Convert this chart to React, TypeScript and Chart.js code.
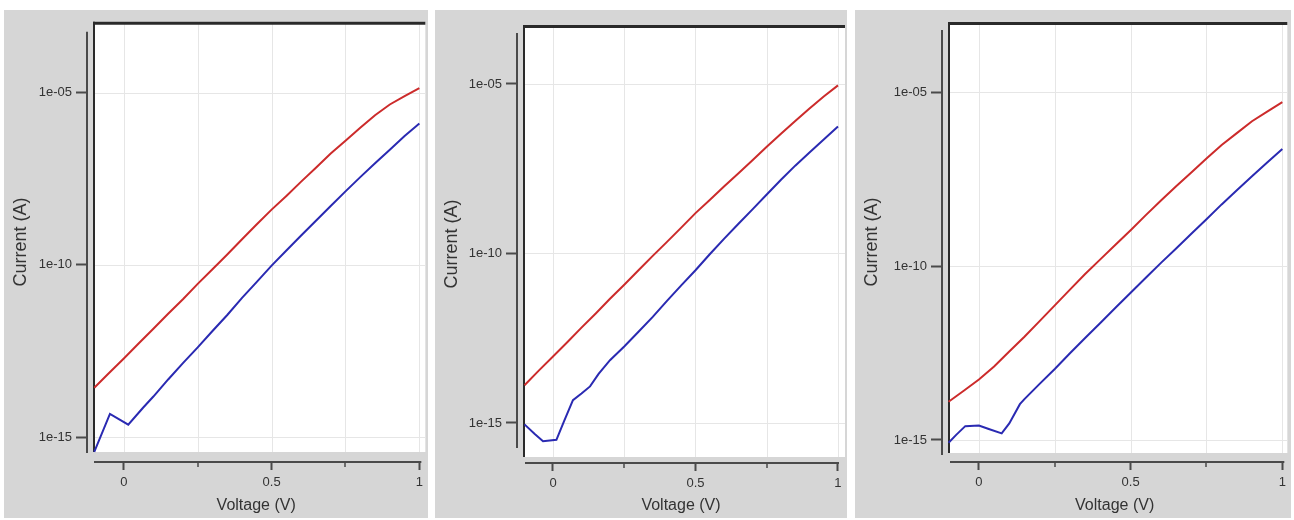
import React, { useEffect, useRef } from "react";
import { Chart, registerables } from "chart.js";

Chart.register(...registerables);

// ---------- data ----------
const voltageGrid = [
  -0.1, -0.05, 0, 0.05, 0.1, 0.15, 0.2, 0.25, 0.3, 0.35, 0.4, 0.45, 0.5,
  0.55, 0.6, 0.65, 0.7, 0.75, 0.8, 0.85, 0.9, 0.95, 1.0,
];

// panel 1
const redCurrent1 = [
  2.7e-14, 7.2e-14, 1.9e-13, 5.2e-13, 1.4e-12, 3.8e-12, 1.0e-11, 2.8e-11,
  7.4e-11, 2.0e-10, 5.5e-10, 1.5e-9, 4.0e-9, 1.0e-8, 2.6e-8, 6.6e-8, 1.7e-7,
  4.0e-7, 9.5e-7, 2.2e-6, 4.5e-6, 7.9e-6, 1.35e-5,
];
const blueVoltage1 = [
  -0.1, -0.047, 0.015, 0.065, 0.1, 0.15, 0.2, 0.25, 0.3, 0.35, 0.4, 0.45,
  0.5, 0.55, 0.6, 0.65, 0.7, 0.75, 0.8, 0.85, 0.9, 0.95, 1.0,
];
const blueCurrent1 = [
  3.7e-16, 4.7e-15, 2.3e-15, 7.1e-15, 1.5e-14, 4.7e-14, 1.4e-13, 4.0e-13,
  1.2e-12, 3.5e-12, 1.1e-11, 3.2e-11, 9.5e-11, 2.6e-10, 7.1e-10, 1.9e-9,
  5.1e-9, 1.35e-8, 3.5e-8, 8.9e-8, 2.2e-7, 5.5e-7, 1.26e-6,
];

// panel 2
const redCurrent2 = [
  1.3e-14, 3.5e-14, 9.1e-14, 2.4e-13, 6.5e-13, 1.7e-12, 4.6e-12, 1.2e-11,
  3.2e-11, 8.5e-11, 2.2e-10, 5.8e-10, 1.55e-9, 3.8e-9, 9.5e-9, 2.3e-8,
  5.6e-8, 1.4e-7, 3.4e-7, 8.1e-7, 1.9e-6, 4.3e-6, 9.1e-6,
];
const blueVoltage2 = [
  -0.1, -0.065, -0.035, 0.012, 0.04, 0.07, 0.1, 0.13, 0.16, 0.2, 0.25, 0.3,
  0.35, 0.4, 0.45, 0.5, 0.55, 0.6, 0.65, 0.7, 0.75, 0.8, 0.85, 0.9, 0.95, 1.0,
];
const blueCurrent2 = [
  9.1e-16, 4.8e-16, 2.9e-16, 3.2e-16, 1.2e-15, 4.7e-15, 7.4e-15, 1.2e-14,
  2.8e-14, 7.1e-14, 1.8e-13, 4.9e-13, 1.35e-12, 4.0e-12, 1.15e-11, 3.2e-11,
  9.5e-11, 2.7e-10, 7.4e-10, 2.0e-9, 5.5e-9, 1.5e-8, 3.9e-8, 9.5e-8, 2.3e-7,
  5.6e-7,
];

// panel 3
const redCurrent3 = [
  1.26e-14, 2.6e-14, 5.5e-14, 1.3e-13, 3.5e-13, 9.3e-13, 2.6e-12, 7.4e-12,
  2.1e-11, 5.9e-11, 1.55e-10, 4.1e-10, 1.07e-9, 2.9e-9, 7.6e-9, 1.95e-8,
  4.9e-8, 1.23e-7, 3.0e-7, 6.6e-7, 1.45e-6, 2.75e-6, 5.1e-6,
];
const blueVoltage3 = [
  -0.1, -0.075, -0.045, 0, 0.03, 0.075, 0.1, 0.135, 0.15, 0.2, 0.25, 0.3,
  0.35, 0.4, 0.45, 0.5, 0.55, 0.6, 0.65, 0.7, 0.75, 0.8, 0.85, 0.9, 0.95, 1.0,
];
const blueCurrent3 = [
  8.3e-16, 1.4e-15, 2.5e-15, 2.6e-15, 2.1e-15, 1.55e-15, 3.0e-15, 1.07e-14,
  1.5e-14, 4.1e-14, 1.1e-13, 3.1e-13, 8.5e-13, 2.3e-12, 6.3e-12, 1.7e-11,
  4.6e-11, 1.23e-10, 3.2e-10, 8.5e-10, 2.2e-9, 5.9e-9, 1.5e-8, 3.8e-8,
  9.5e-8, 2.3e-7,
];

const yTickValues = [1e-15, 1e-10, 1e-5];
const yTickLabels = ["1e-15", "1e-10", "1e-05"];
const xTickValues = [0, 0.5, 1];
const xTickLabels = ["0", "0.5", "1"];
const xMinorTicks = [0.25, 0.75];
const xGridValues = [0, 0.25, 0.5, 0.75, 1];
const xTitle = "Voltage (V)";
const yTitle = "Current (A)";

// ---------- style / layout ----------
const FONT = '"Liberation Sans", Arial, sans-serif';
const TEXT = "#333333";
const AXIS = "#4a4a4a";
const RED = "#cc2b2b";
const BLUE = "#2a2ab2";
const PANEL_BG = "#d6d6d6";

const panels = [
  {
    left: 4, width: 424,
    pad: { top: 10, right: 1, bottom: 3, left: 0 },
    yWidth: 83, xHeight: 53,
    xMin: -0.1246, xMax: 1.0202, yMin: 1.89e-16, yMax: 1.13e-3,
    red: redCurrent1, blueV: blueVoltage1, blue: blueCurrent1,
    frame: { frameLeft: 6, whiteBottom: 10, yTop: 10, yBottom: 9, xLeft: 7, xRight: 4 },
  },
  {
    left: 435, width: 412,
    pad: { top: 15, right: 2, bottom: 3, left: 0 },
    yWidth: 82, xHeight: 52,
    xMin: -0.1263, xMax: 1.0246, yMin: 6.6e-17, yMax: 5.5e-4,
    red: redCurrent2, blueV: blueVoltage2, blue: blueCurrent2,
    frame: { frameLeft: 6, whiteBottom: 6, yTop: 8, yBottom: 15, xLeft: 8, xRight: 6 },
  },
  {
    left: 855, width: 436,
    pad: { top: 12, right: 3, bottom: 3, left: 0 },
    yWidth: 87, xHeight: 53,
    xMin: -0.1217, xMax: 1.0164, yMin: 2.33e-16, yMax: 1.03e-3,
    red: redCurrent3, blueV: blueVoltage3, blue: blueCurrent3,
    frame: { frameLeft: 6, whiteBottom: 9, yTop: 8, yBottom: 7, xLeft: 8, xRight: 3 },
  },
];

const framePlugin = {
  id: "igorFrame",
  beforeDatasetsDraw(chart: any, _args: any, g: any) {
    const { ctx, chartArea: a, scales } = chart;
    const xs = scales.x;
    const ys = scales.y;
    const wl = a.left + g.frameLeft;
    const wb = a.bottom - g.whiteBottom;
    ctx.save();
    // white plot area
    ctx.fillStyle = "#ffffff";
    ctx.fillRect(wl, a.top, a.right - wl, wb - a.top);
    // grid lines
    ctx.strokeStyle = "#e6e6e6";
    ctx.lineWidth = 1;
    ctx.beginPath();
    xGridValues.forEach((v) => {
      const px = Math.round(xs.getPixelForValue(v)) + 0.5;
      ctx.moveTo(px, a.top);
      ctx.lineTo(px, wb);
    });
    yTickValues.forEach((v) => {
      const py = Math.round(ys.getPixelForValue(v)) + 0.5;
      ctx.moveTo(wl, py);
      ctx.lineTo(a.right, py);
    });
    ctx.stroke();
    // frame (top + left)
    ctx.strokeStyle = "#2a2a2a";
    ctx.lineWidth = 3;
    ctx.beginPath();
    ctx.moveTo(wl, a.top + 1.5);
    ctx.lineTo(a.right, a.top + 1.5);
    ctx.stroke();
    ctx.lineWidth = 2;
    ctx.beginPath();
    ctx.moveTo(wl + 1, a.top);
    ctx.lineTo(wl + 1, wb);
    ctx.stroke();
    // offset axis lines
    ctx.strokeStyle = AXIS;
    ctx.lineWidth = 2;
    ctx.beginPath();
    ctx.moveTo(a.left, a.top + g.yTop);
    ctx.lineTo(a.left, a.bottom - g.yBottom);
    ctx.moveTo(a.left + g.xLeft, a.bottom);
    ctx.lineTo(a.right - g.xRight, a.bottom);
    ctx.stroke();
    // minor x ticks
    ctx.lineWidth = 1.5;
    ctx.beginPath();
    xMinorTicks.forEach((v) => {
      const px = Math.round(xs.getPixelForValue(v));
      ctx.moveTo(px, a.bottom);
      ctx.lineTo(px, a.bottom + 5);
    });
    ctx.stroke();
    ctx.restore();
  },
};

function Panel({ p }: { p: any }) {
  const ref = useRef<HTMLCanvasElement | null>(null);
  useEffect(() => {
    if (!ref.current) return;
    const chart = new Chart(ref.current, {
      type: "scatter",
      data: {
        datasets: [
          {
            data: voltageGrid.map((v, i) => ({ x: v, y: p.red[i] })),
            showLine: true,
            borderColor: RED,
            backgroundColor: RED,
            borderWidth: 2,
            pointRadius: 0,
            tension: 0,
          },
          {
            data: p.blueV.map((v: number, i: number) => ({ x: v, y: p.blue[i] })),
            showLine: true,
            borderColor: BLUE,
            backgroundColor: BLUE,
            borderWidth: 2,
            pointRadius: 0,
            tension: 0,
          },
        ],
      },
      options: {
        responsive: false,
        animation: false,
        devicePixelRatio: 1,
        layout: { padding: p.pad },
        events: [],
        plugins: {
          legend: { display: false },
          tooltip: { enabled: false },
          igorFrame: p.frame,
        } as any,
        scales: {
          x: {
            type: "linear",
            position: "bottom",
            min: p.xMin,
            max: p.xMax,
            afterBuildTicks: (s: any) => {
              s.ticks = xTickValues.map((v) => ({ value: v }));
            },
            afterFit: (s: any) => {
              s.height = p.xHeight;
            },
            ticks: {
              autoSkip: false,
              maxRotation: 0,
              padding: 5,
              color: TEXT,
              font: { family: FONT, size: 13 },
              callback: (_v: any, i: number) => xTickLabels[i],
            },
            grid: {
              display: true,
              drawOnChartArea: false,
              drawTicks: true,
              tickLength: 8,
              tickWidth: 2,
              tickColor: AXIS,
            },
            border: { display: false },
            title: {
              display: true,
              text: xTitle,
              color: TEXT,
              font: { family: FONT, size: 16 },
              padding: { top: 2, bottom: 0 },
            },
          },
          y: {
            type: "logarithmic",
            position: "left",
            min: p.yMin,
            max: p.yMax,
            afterBuildTicks: (s: any) => {
              s.ticks = yTickValues.map((v) => ({ value: v }));
            },
            afterFit: (s: any) => {
              s.width = p.yWidth;
            },
            ticks: {
              autoSkip: false,
              padding: 4,
              color: TEXT,
              font: { family: FONT, size: 13 },
              callback: (_v: any, i: number) => yTickLabels[i],
            },
            grid: {
              display: true,
              drawOnChartArea: false,
              drawTicks: true,
              tickLength: 11,
              tickWidth: 2,
              tickColor: AXIS,
            },
            border: { display: false },
            title: {
              display: true,
              text: yTitle,
              color: TEXT,
              font: { family: FONT, size: 18 },
              padding: { top: 6, bottom: 0 },
            },
          },
        },
      } as any,
      plugins: [framePlugin],
    });
    return () => chart.destroy();
  }, [p]);
  return (
    <div
      style={{
        position: "absolute",
        left: p.left,
        top: 10,
        width: p.width,
        height: 508,
        background: PANEL_BG,
      }}
    >
      <canvas ref={ref} width={p.width} height={508} style={{ display: "block" }} />
    </div>
  );
}

export default function App() {
  return (
    <div
      style={{
        position: "absolute",
        left: 0,
        top: 0,
        width: 1294,
        height: 520,
        background: "#ffffff",
        overflow: "hidden",
      }}
    >
      {panels.map((p, i) => (
        <Panel key={i} p={p} />
      ))}
    </div>
  );
}
